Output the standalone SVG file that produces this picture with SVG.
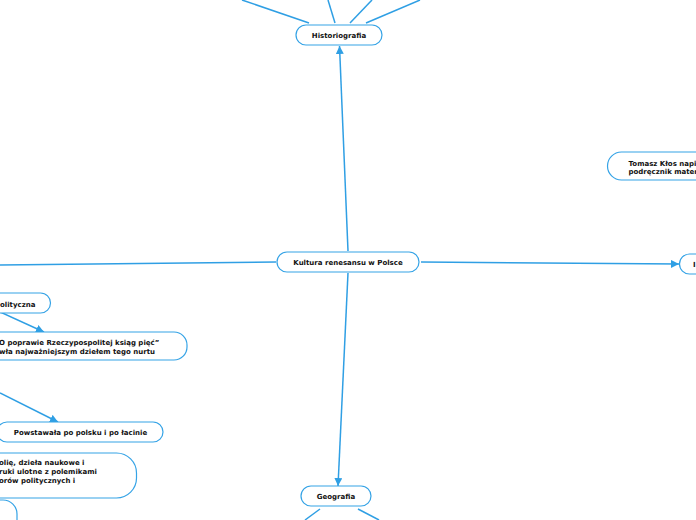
<svg xmlns="http://www.w3.org/2000/svg" width="696" height="520" viewBox="0 0 696 520">
<defs>
<style>
.n{fill:#fff;stroke:#35a3e6;stroke-width:1.2}
.t{font-family:"DejaVu Sans",Verdana,sans-serif;font-weight:bold;font-size:7px;fill:#111}
.c{fill:none;stroke:#2f9fe4;stroke-width:1.5}
</style>
<marker id="ah" viewBox="0 0 10 10" refX="9" refY="5" markerWidth="5" markerHeight="5" orient="auto" markerUnits="userSpaceOnUse">
<path d="M0,0 L10,5 L0,10 z" fill="#2f9fe4"/>
</marker>
<marker id="a" viewBox="0 0 10 10" refX="10" refY="5" markerWidth="8" markerHeight="8" orient="auto" markerUnits="userSpaceOnUse">
<path d="M0,0 L10,5 L0,10 z" fill="#2f9fe4"/>
</marker>
</defs>
<rect width="696" height="520" fill="#fff"/>
<g id="connectors">
<line class="c" x1="309" y1="23" x2="242" y2="0"/>
<line class="c" x1="335" y1="23" x2="328" y2="0"/>
<line class="c" x1="350" y1="23" x2="372" y2="0"/>
<line class="c" x1="366" y1="23" x2="420" y2="0"/>
<line class="c" x1="348" y1="251" x2="339.5" y2="46" marker-end="url(#a)"/>
<line class="c" x1="348" y1="273" x2="338" y2="486" marker-end="url(#a)"/>
<line class="c" x1="421" y1="262" x2="679" y2="264" marker-end="url(#a)"/>
<line class="c" x1="276" y1="262" x2="0" y2="265"/>
<line class="c" x1="0" y1="312" x2="44" y2="332" marker-end="url(#a)"/>
<line class="c" x1="0" y1="393" x2="58" y2="422" marker-end="url(#a)"/>
<line class="c" x1="320" y1="509" x2="305" y2="520"/>
<line class="c" x1="358" y1="509" x2="379" y2="520"/>
</g>
<g id="historiografia">
<rect class="n" x="296" y="25" width="86" height="20" rx="10"/>
<text class="t" x="339" y="37.5" text-anchor="middle">Historiografia</text>
</g>
<g id="kultura">
<rect class="n" x="277" y="252" width="142" height="20" rx="10"/>
<text class="t" x="348" y="264.5" text-anchor="middle">Kultura renesansu w Polsce</text>
</g>
<g id="geografia">
<rect class="n" x="301" y="486" width="70" height="20" rx="10"/>
<text class="t" x="336" y="498.5" text-anchor="middle">Geografia</text>
</g>
<g id="tomasz">
<rect class="n" x="607.5" y="152" width="120" height="28" rx="14"/>
<text class="t" x="628.5" y="165.5">Tomasz Kłos napi</text>
<text class="t" x="628.5" y="173.5">podręcznik mater</text>
</g>
<g id="right-node">
<rect class="n" x="679.5" y="254" width="60" height="20" rx="10"/>
<text class="t" x="693" y="266.5">I</text>
</g>
<g id="polityczna">
<rect class="n" x="-40" y="293" width="90.5" height="20" rx="10"/>
<text class="t" x="0" y="306.5">olityczna</text>
</g>
<g id="o-poprawie">
<rect class="n" x="-40" y="332" width="227" height="28" rx="13"/>
<text class="t" x="-1" y="344.5">O poprawie Rzeczypospolitej ksiąg pięć”</text>
<text class="t" x="-1" y="353.5">wła najważniejszym dziełem tego nurtu</text>
</g>
<g id="powstawala">
<rect class="n" x="-3" y="422" width="166" height="20" rx="10"/>
<text class="t" x="80.5" y="434.5" text-anchor="middle">Powstawała po polsku i po łacinie</text>
</g>
<g id="gatunki">
<rect class="n" x="-60" y="453" width="196.5" height="45" rx="20"/>
<text class="t" x="-1" y="465">olię, dzieła naukowe i</text>
<text class="t" x="-1" y="474">ruki ulotne z polemikami</text>
<text class="t" x="-1" y="483">orów politycznych i</text>
</g>
<g id="bottom-left">
<rect class="n" x="-60" y="500" width="77" height="40" rx="14"/>
</g>
</svg>
